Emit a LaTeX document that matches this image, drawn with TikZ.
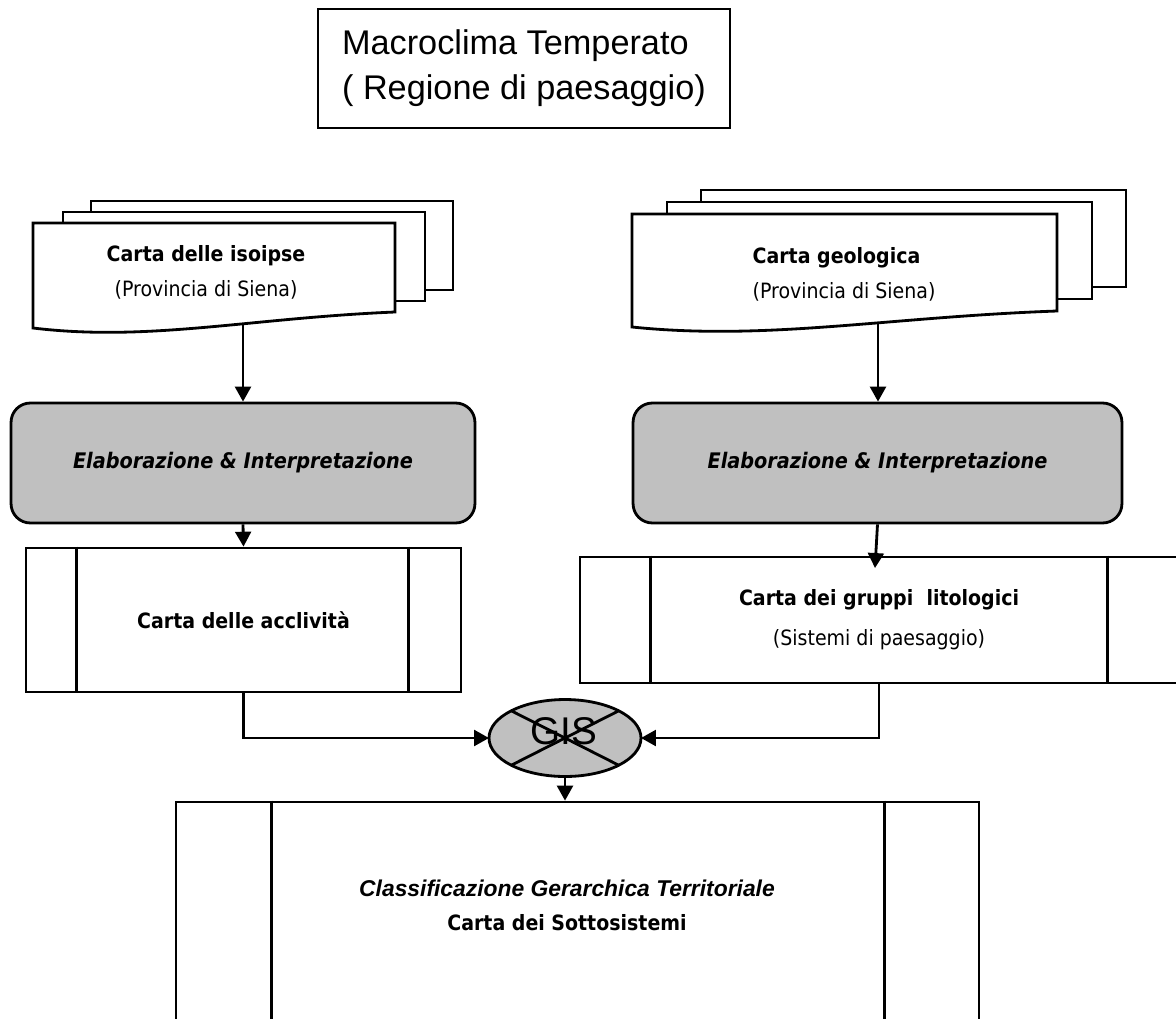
\documentclass[tikz,border=0pt]{standalone}
\usepackage{fontspec}
\usepackage{tikz}
\usetikzlibrary{calc, arrows.meta, shapes.geometric}
\newfontfamily\tahoma[FakeStretch=0.9]{DejaVu Sans}
\newfontfamily\arial{Liberation Sans}
\definecolor{boxgray}{HTML}{C0C0C0}

\begin{document}
\begin{tikzpicture}[x=0.02cm, y=-0.02cm, line width=1.6pt,
  box/.style={draw, rectangle, inner sep=0pt, align=center},
  elab/.style={box, rounded corners=11pt, fill=boxgray, minimum height=2.4cm,
    font=\tahoma\bfseries\itshape\fontsize{12.2}{14}\selectfont},
  proc/.style={box, font=\tahoma\fontsize{12}{22.7}\selectfont},
  sheet/.style={draw, fill=white},
  arr/.style={-{Triangle[length=8.5pt, width=9pt]}}]
  \useasboundingbox (0,0) rectangle (1176,1018);
  \clip (0,0) rectangle (1176,1018);

  \node[box, minimum width=8.24cm, minimum height=2.38cm, align=left,
    font=\arial\fontsize{19.5}{25.5}\selectfont] (clima) at (524,68.5)
    {Macroclima Temperato\\( Regione di paesaggio)};

  % pile di carte
  \foreach \dx/\dy in {58/-22, 30/-11}
    \draw[sheet, shift={(\dx,\dy)}] (33,223) rectangle (395,312);
  \draw[sheet] (33,328) -- (33,223) -- (395,223) -- (395,312)
    .. controls (250,318) and (149,342) .. cycle;
  \node[font=\tahoma\fontsize{12}{19.8}\selectfont, align=center] (iso) at (206,272)
    {\textbf{Carta delle isoipse}\\(Provincia di Siena)};
  \coordinate (isoB) at (243,323);

  \foreach \dx/\dy in {69/-24, 35/-12}
    \draw[sheet, shift={(\dx,\dy)}] (632,214) rectangle (1057,311);
  \draw[sheet] (632,327) -- (632,214) -- (1057,214) -- (1057,311)
    .. controls (887,317) and (768,341) .. cycle;
  \node[font=\tahoma\fontsize{12}{19.8}\selectfont, align=left] (geo) at (844,274)
    {\textbf{Carta geologica}\\(Provincia di Siena)};
  \coordinate (geoB) at (878,323);

  \node[elab, minimum width=9.28cm] (elabL) at (243,463) {Elaborazione \& Interpretazione};
  \node[elab, minimum width=9.78cm] (elabR) at (877.5,463) {Elaborazione \& Interpretazione};

  \node[proc, minimum width=8.7cm, minimum height=2.88cm] (acc) at (243.5,620)
    {\textbf{Carta delle acclività}};
  \draw ($(acc.north west)+(52,0)$) -- ($(acc.south west)+(52,0)$);
  \draw ($(acc.north east)+(-54,0)$) -- ($(acc.south east)+(-54,0)$);

  \node[proc, minimum width=11.96cm, minimum height=2.52cm] (gru) at (879,620)
    {\textbf{Carta dei gruppi~ litologici}\\(Sistemi di paesaggio)};
  \draw ($(gru.north west)+(72,0)$) -- ($(gru.south west)+(72,0)$);
  \draw ($(gru.north east)+(-72,0)$) -- ($(gru.south east)+(-72,0)$);
  \coordinate (gruIn) at (875,568);

  \node[ellipse, draw, fill=boxgray, minimum width=3.04cm, minimum height=1.54cm,
    inner sep=0pt, outer sep=0pt] (gis) at (565,738) {};
  \draw (gis.north west) -- (gis.south east) (gis.north east) -- (gis.south west);
  \node[font=\arial\fontsize{22}{24}\selectfont] (gisTxt) at (564,731) {GIS};

  \node[box, minimum width=16.06cm, minimum height=5.96cm] (cls) at (577.5,951) {};
  \draw ($(cls.north west)+(97,0)$) -- ($(cls.south west)+(97,0)$);
  \draw ($(cls.north east)+(-96,0)$) -- ($(cls.south east)+(-96,0)$);
  \node[font=\tahoma\fontsize{12}{19.3}\selectfont, align=center] (clsTxt) at (567,905)
    {{\arial\bfseries\itshape\fontsize{13}{19.3}\selectfont Classificazione Gerarchica Territoriale}\\
     \textbf{Carta dei Sottosistemi}};

  \draw[arr] (isoB) -- (elabL.north);
  \draw[arr] (geoB) -- (geoB |- elabR.north);
  \draw[arr] (elabL.south) -- (acc.north);
  \draw[arr] (elabR.south) -- (gruIn);
  \draw[arr] (acc.south) |- (gis.west);
  \draw[arr] (gru.south) |- (gis.east);
  \draw[arr] (gis.south) -- (gis.south |- cls.north);
\end{tikzpicture}
\end{document}
